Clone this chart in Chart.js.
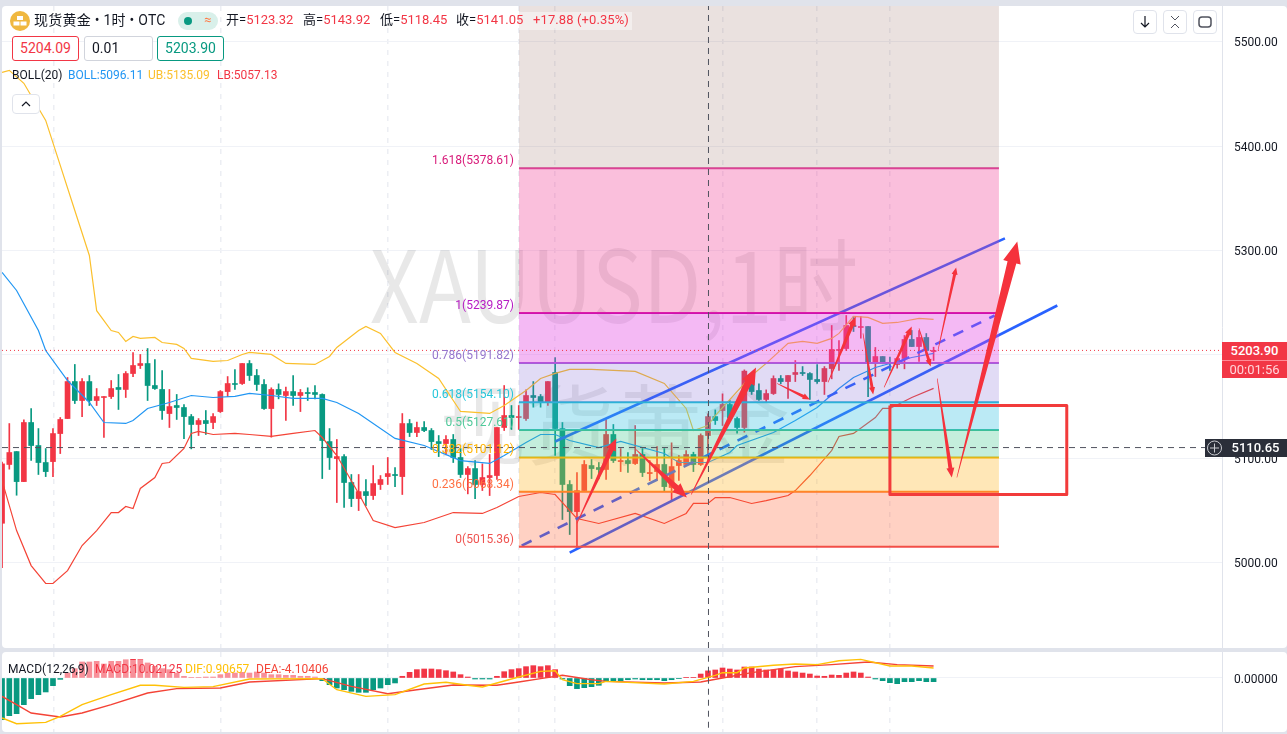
<!DOCTYPE html>
<html>
<head>
<meta charset="utf-8">
<script src="https://cdn.jsdelivr.net/npm/chart.js@4/dist/chart.umd.min.js"></script>
<style>
  html, body { margin: 0; padding: 0; width: 1287px; height: 734px; overflow: hidden; background: #e0e3eb; }
  body { font-family: Roboto, "Noto Sans CJK SC", sans-serif; color: #131722; position: relative; }
  .pane { position: absolute; left: 2px; width: 1285px; background: #fff; border-radius: 4px; }
  canvas { position: absolute; left: 0; }
  .t { position: absolute; white-space: nowrap; line-height: 16px; }
  .r { color: #f23645; }
  .box { position: absolute; top: 36px; height: 23px; line-height: 23px; text-align: center; border: 1px solid #d1d4dc; border-radius: 3px; font-size: 14px; background: #fff; }
  .btn { position: absolute; border: 1px solid #e0e3eb; border-radius: 4px; background: #fff; box-sizing: border-box; }
  .tag { position: absolute; text-align: center; color: #fff; font-size: 13px; }
</style>
</head>
<body>
<div class="pane" style="top:6px;height:642px"></div>
<div class="pane" style="top:652px;height:80px"></div>
<canvas id="mainChart" width="1287" height="648" style="top:0"></canvas>
<canvas id="macdChart" width="1287" height="80" style="top:652px"></canvas>

<!-- 标题栏 -->
<svg style="position:absolute;left:10px;top:11px" width="20" height="20"><circle cx="10" cy="10" r="10" fill="#f0b840"/><rect x="7" y="5" width="6" height="4" fill="#fff"/><rect x="3.5" y="10.5" width="6" height="4" fill="#fff"/><rect x="10.5" y="10.5" width="6" height="4" fill="#fff"/></svg>
<div class="t" style="left:34px;top:12px;font-size:14px;letter-spacing:.25px">现货黄金 • 1时 • OTC</div>
<div style="position:absolute;left:178px;top:12px;width:40px;height:18px;background:#d9f0ea;border-radius:9px"></div>
<div style="position:absolute;left:184px;top:17px;width:8px;height:8px;background:#089981;border-radius:50%"></div>
<div class="t" style="left:204px;top:12px;font-size:13px;color:#ff7a45">≈</div>
<div style="position:absolute;left:519px;top:12px;width:113px;height:18px;background:rgba(255,255,255,.45)"></div>
<div class="t" style="left:226px;top:12px;font-size:13px">开=<span class="r">5123.32</span></div>
<div class="t" style="left:303px;top:12px;font-size:13px">高=<span class="r">5143.92</span></div>
<div class="t" style="left:380px;top:12px;font-size:13px">低=<span class="r">5118.45</span></div>
<div class="t" style="left:456px;top:12px;font-size:13px">收=<span class="r">5141.05</span></div>
<div class="t r" style="left:533px;top:12px;font-size:13px;letter-spacing:.1px">+17.88 (+0.35%)</div>

<div class="box r" style="left:12px;width:65px;border-color:#f23645">5204.09</div>
<div class="box" style="left:84px;width:67px;text-align:left;text-indent:7px">0.01</div>
<div class="box" style="left:157px;width:65px;border-color:#089981;color:#089981">5203.90</div>

<div class="t" style="left:12px;top:67px;font-size:12px">BOLL(20)</div>
<div class="t" style="left:68px;top:67px;font-size:12px;color:#2196f3">BOLL:5096.11</div>
<div class="t" style="left:148px;top:67px;font-size:12px;color:#fbc02d">UB:5135.09</div>
<div class="t" style="left:217px;top:67px;font-size:12px;color:#f23645">LB:5057.13</div>

<div class="btn" style="left:12px;top:94px;width:28px;height:20px"><svg width="26" height="18"><path d="M9 11l4-4 4 4" fill="none" stroke="#131722" stroke-width="1.2"/></svg></div>
<div class="btn" style="left:1133px;top:10px;width:24px;height:24px"><svg width="22" height="22"><path d="M11 5v11M7 12l4 4 4-4" fill="none" stroke="#131722" stroke-width="1.2"/></svg></div>
<div class="btn" style="left:1163px;top:10px;width:24px;height:24px"><svg width="22" height="22"><path d="M7 5l4 4 4-4M7 17l4-4 4 4" fill="none" stroke="#50535e" stroke-width="1"/></svg></div>
<div class="btn" style="left:1193px;top:10px;width:24px;height:24px"><svg width="22" height="22"><rect x="5" y="6" width="12" height="10" rx="3" fill="none" stroke="#50535e" stroke-width="1.5"/></svg></div>

<!-- 价格标签 -->
<div class="tag" style="left:1222px;top:342px;width:65px;height:18px;line-height:17px;background:#f23645;font-weight:500">5203.90</div>
<div class="tag" style="left:1222px;top:360px;width:65px;height:18px;line-height:17px;background:#f23645;color:#ffd5da;border-top:1px solid #ff8a96;box-sizing:border-box">00:01:56</div>
<div class="tag" style="left:1224px;top:439px;width:63px;height:18px;line-height:18px;background:#2a2e39;font-weight:500">5110.65</div>
<div style="position:absolute;left:1205px;top:439px;width:19px;height:18px;background:#2a2e39"></div>
<svg style="position:absolute;left:1206px;top:440px" width="17" height="16"><circle cx="8.5" cy="8" r="7" fill="none" stroke="#c8cad0"/><path d="M8.5 3.5v9M4 8h9" stroke="#c8cad0"/></svg>

<!-- MACD 标题 -->
<div style="position:absolute;left:2px;top:660px;width:326px;height:18px;background:rgba(255,255,255,.45)"></div>
<div class="t" style="left:8px;top:661px;font-size:12px">MACD(12,26,9)</div>
<div class="t" style="left:95px;top:661px;font-size:12px;color:#f23645">MACD:10.02125</div>
<div class="t" style="left:185px;top:661px;font-size:12px;color:#ffc107">DIF:0.90657</div>
<div class="t" style="left:256px;top:661px;font-size:12px;color:#f44336">DEA:-4.10406</div>

<script>
// K线 (来自截图估读)
const opens = [5038,5094.4,5106.8,5078,5134.7,5112.6,5096.3,5097.2,5124.1,5138.5,5174,5155.8,5174,5155.8,5158.7,5159.6,5168.3,5166.4,5181.7,5189.4,5191.3,5170.2,5166.4,5143.3,5151,5149.1,5140.4,5132.8,5136.6,5134.7,5145.2,5164.4,5172.1,5172.1,5191.3,5179.8,5171.2,5148.1,5166.4,5160.6,5164.4,5160.6,5163.5,5163.5,5161.6,5116.4,5100.1,5102,5077.1,5061.7,5068.4,5064.6,5075.2,5082.8,5084.8,5082.8,5133.7,5125.1,5129.9,5127,5116.4,5114.5,5118.4,5101.1,5084.8,5090.5,5075.2,5081.9,5083.8,5129.9,5141.4,5139.5,5138.5,5160.6,5159.6,5153.9,5182.7,5128.9,5075.2,5049.2,5069.4,5093.4,5091.5,5089.6,5123.2,5097.2,5098.2,5095.3,5104,5085.7,5087.6,5094.4,5072.3,5093.4,5094.4,5104,5094.4,5122.2,5140.4,5146.2,5152,5138.5,5129.9,5175,5165.4,5156.8,5162.5,5176.9,5174,5180.8,5182.7,5181.7,5176,5174,5186.5,5203.8,5205.7,5227.8,5225.9,5226.8,5192.3,5198,5192.3,5190.4,5196.1,5214.4,5207.6,5216.3,5202.8];
const highs = [5096.6,5133.7,5106.8,5137.2,5148.1,5128.9,5109.7,5128.9,5139.5,5177.9,5190.4,5176.9,5179.8,5167.3,5159.6,5175,5180.8,5183.6,5201.9,5200,5205.7,5195.2,5184.6,5166.4,5161.6,5152,5142.4,5138.5,5146.2,5143.3,5165.4,5178.8,5185.6,5191.3,5194.2,5185.6,5176,5168,5171.8,5168.6,5179.8,5166.4,5168,5170.2,5162.2,5128.9,5118.4,5104,5084.8,5084.8,5080,5093.4,5083.8,5101.1,5091.5,5143.3,5137.6,5135,5135.6,5128.9,5122.2,5122.2,5123.2,5109.7,5092.4,5098.2,5095,5104,5129.9,5170.2,5151,5151,5166,5174,5161.6,5174,5197,5134.7,5079,5086.7,5098.2,5099.2,5096.3,5137.6,5132.8,5109.7,5105.9,5131.8,5109.7,5098.2,5111.6,5109.7,5115.2,5103,5107.8,5106.2,5123.8,5143,5146.8,5162.2,5155.8,5139.8,5185.2,5182,5171.8,5166,5179.5,5179.8,5179.8,5194.2,5188.4,5182.7,5190.4,5188.4,5227.8,5213.4,5237.4,5236.4,5236.4,5226.8,5206.7,5198,5197.4,5197.4,5218.2,5223,5223,5220.1,5207];
const lows = [4995.5,5089.9,5064.9,5078,5098.2,5084.8,5082.8,5082.8,5104.9,5138.5,5152.9,5140.4,5151,5151,5120.3,5157.7,5147.2,5158.7,5178.8,5186.5,5155.8,5166.4,5137.6,5129.9,5137.6,5119.3,5109.4,5122.2,5123.2,5128.9,5144.3,5159.6,5166.4,5171.2,5175,5165.4,5147.2,5120.6,5157.4,5136.6,5151,5145.2,5155.8,5157.4,5080.9,5089.6,5057.9,5053.1,5054,5050.2,5055,5060.8,5070.4,5075.2,5073.2,5065.6,5121.2,5121.2,5126,5108.8,5102,5104,5096.3,5081.9,5066.2,5061.7,5069.4,5064.6,5080,5127,5128,5128,5136.6,5149.4,5149.4,5151,5103,5041.6,5027.2,5014.7,5069.4,5080.9,5080.6,5080,5096.3,5087.6,5086.7,5094.4,5082.8,5079,5079,5068.4,5059.8,5079,5094.4,5087.6,5093.4,5096.6,5132.8,5131.8,5136.6,5124.4,5125.4,5161.6,5155.8,5154.2,5161.6,5171.8,5157.7,5174,5179.8,5156.8,5172.1,5161.6,5176.6,5184.6,5203.8,5222,5215.6,5159.6,5178.8,5191,5184.6,5186.8,5186.2,5207.6,5193.2,5200,5194.2];
const closes = [5095,5105.9,5078,5134.7,5112.6,5096.3,5087.6,5124.1,5137.6,5174,5155.8,5174,5155.8,5159.6,5159.6,5167.3,5166.4,5181.7,5189.4,5191.3,5170.2,5167.3,5146.2,5150,5149.1,5140.4,5132.8,5136.6,5133.7,5140.4,5164.4,5172.1,5171.2,5191.3,5179.8,5171.2,5148.1,5166.4,5161.6,5164.4,5160.6,5163.5,5162.5,5161.6,5117.4,5101.1,5102,5077.1,5061.7,5068.4,5064.6,5076.1,5080,5085.7,5083.8,5133.7,5125.1,5129.9,5127,5116.4,5114.5,5118.4,5101.1,5084.8,5090.5,5075.2,5081.9,5083.8,5129.9,5141.4,5139.5,5140.4,5160.6,5158.7,5153.9,5174,5128.9,5075.2,5049.2,5069.4,5094.4,5090.5,5089.6,5123.2,5098.2,5098.2,5095.3,5104,5086.7,5086.7,5094.4,5073.2,5092.4,5098.2,5104,5094.4,5122.2,5140.4,5136.6,5152,5139.2,5129.9,5184,5164.4,5156.8,5162.5,5176.9,5174,5179.8,5182.7,5181.7,5176,5174,5186.5,5204.8,5204.8,5227.8,5226.8,5226.8,5192.3,5198,5192.3,5191.3,5196.1,5214.4,5207.6,5216.3,5203.8,5203.8];

// BOLL(20) 读点
const ubIdx = [0,1,3,6,8,10,12,13,15,16,17,18,19,21,22,24,25,26,29,31,33,34,37,39,43,45,46,49,50,52,54,57,60,63,67,69,72,74,76,78,81,87,91,94,95,97,98,103,105,108,110,112,114,115,117,119,121,123,126,128];
const ubVal = [5470.7,5472.6,5460.2,5424.6,5381.4,5338.2,5295,5242,5223,5221.1,5212.5,5217.3,5215.4,5216.3,5211.5,5209.6,5205.8,5196.2,5193.3,5194.2,5200,5201.9,5200,5191.4,5190.4,5198.1,5206.7,5223,5226.9,5220.2,5201.9,5191.4,5177,5145.3,5143.4,5151,5165.4,5177,5181.8,5185.6,5185.6,5183.7,5172.2,5148.2,5127,5131.8,5141.4,5179.8,5191.4,5210.6,5212.5,5210.6,5215.4,5220.2,5236.5,5235.5,5229.8,5230.7,5234.6,5233.6];
const midIdx = [0,2,5,6,9,12,14,17,18,20,23,26,29,32,34,37,40,44,46,49,54,58,63,67,69,72,74,76,78,82,85,88,91,93,97,100,101,106,109,112,115,117,120,121,125,128];
const midVal = [5278.7,5261.4,5223,5203.8,5175,5153.9,5134.7,5133.8,5136.6,5148.2,5153.9,5160.6,5158.7,5159.7,5162.6,5160.6,5157.8,5157.8,5153.9,5143.4,5119.4,5112.6,5098.2,5095.4,5103,5115.5,5123.2,5123.2,5117.4,5110.7,5116.5,5110.7,5105,5096.3,5096.3,5105.9,5112.6,5125.1,5136.6,5149.1,5167.4,5177.9,5187.5,5189.4,5197.1,5201];
const lbIdx = [0,2,4,6,7,9,11,13,15,16,17,18,19,21,22,23,25,26,27,29,32,34,37,40,43,44,46,49,51,54,58,62,66,68,71,74,76,78,79,82,87,91,94,95,97,98,100,103,105,108,109,111,114,115,117,120,121,122,125,128];
const lbVal = [5079,5031,4997.4,4980.2,4980.2,4992.6,5016.6,5031,5048.3,5048.3,5054.1,5052.2,5071.4,5081.9,5095.4,5096.3,5109.8,5124.2,5126.1,5123.2,5124.2,5123.2,5121.3,5124.2,5127,5120.3,5103,5066.6,5040.6,5033.9,5038.7,5048.3,5047.4,5053.1,5063.7,5067.5,5065.6,5050.2,5042.6,5037.8,5047.4,5037.8,5047.4,5057,5057,5062.7,5062.7,5057,5059.8,5064.6,5069.4,5083.8,5107.8,5121.3,5124.2,5139.5,5148.2,5148.2,5158.7,5167.4];

// 斐波那契
const fibRatios = ["1.618","1","0.786","0.618","0.5","0.382","0.236","0"];
const fibPrices = [5378.61,5239.87,5191.82,5154.10,5127.61,5101.12,5068.34,5015.36];
const fibLineColors = ["#e0409a","#d010b0","#a55fd8","#29b6d8","#3cbf98","#ffb300","#ff7a2a","#f04e4e"];
const fibZoneColors = ["rgba(240,60,150,.33)","rgba(225,60,225,.36)","rgba(120,90,210,.22)","rgba(50,190,225,.33)","rgba(60,200,140,.3)","rgba(255,180,30,.32)","rgba(255,90,40,.28)"];
const fibTopZoneColor = "rgba(140,90,80,.18)";
const fibLabelColors = ["#d81b7a","#b71cc4","#9575cd","#26c6da","#4fc99a","#ffb300","#ff7043","#ef5350"];
const fibStart = 71.03, fibEnd = 136.98;

// 通道线
const channelUpperX = [76,137.8], channelUpperY = [5116.5,5311.4];
const channelLowerX = [78,145], channelLowerY = [5009.9,5247];
const channelMidX = [71.4,136.4], channelMidY = [5016.6,5237.4];

// 手绘箭头 (起点, 终点, 箭头大小)
const arrowFromX = [79,87.1,94.7,106.5,113.5,118.3,121.2,126,128.6,128.5,131.2];
const arrowFromY = [5037.8,5108.8,5065.6,5172.2,5173.1,5220.2,5168.3,5225,5203.8,5177,5081.9];
const arrowToX = [84.4,94.1,103.6,111,117.3,119.7,125,127.6,131.1,130.5,139.5];
const arrowToY = [5119.4,5062.7,5187.5,5156.8,5236.5,5161.6,5226.9,5188.5,5283.5,5081.9,5308.5];
const arrowSizes = [5,6,7,3,4,3,3.5,3,3,4,9];

// 红框
const boxX = [122,146.3,146.3,122,122];
const boxY = [5151,5151,5065.6,5065.6,5151];

const yTicks = [5000,5100,5200,5300,5400,5500];
const gridIdx = [7.1,30,53,71,76,99,112,122];
const lastPrice = 5203.9, crossPrice = 5110.65, crossIdx = 97.07;
const priceMin = 4918.3, priceMax = 5534.4;
const idxMin = -0.005, idxMax = 167.63;

// MACD
const macdHist = [-58.8,-53.1,-50.3,-37.6,-29.1,-23.5,-19.7,-10.8,-1.9,7,13.2,22.6,22.6,23.5,19.7,23.5,23.5,25.4,26.3,25.9,21.2,16.5,13.2,11.8,7,2.4,0.9,0.9,1.4,1.4,4.7,7,7,8,7,8.5,7,4.7,4.7,3.8,3.8,2.4,2.4,1.4,-3.8,-9.4,-14.1,-16.5,-18.8,-20.2,-20.2,-16.5,-14.1,-9.4,-7,2.4,8,11.8,12.7,12.7,11.8,10.3,8.5,4.7,1.4,-1.4,-1.4,-1.4,2.4,8.9,11.8,13.2,16,17.4,16,17.4,11.8,-1.4,-10.8,-15,-13.6,-12.2,-10.3,-4.2,-4.2,-4.2,-2.4,-1.4,-2.4,-2.4,-2.4,-3.8,-2.4,-0.9,0.9,0.9,5.6,10.02,11.3,14.1,12.7,11.3,15.5,15.5,12.7,11.3,11.3,12.7,9.9,8.5,7,5.6,2.8,2.4,4.2,3.8,7,8.5,7,1.4,-1.4,-3.8,-6.6,-8,-5.2,-5.2,-3.8,-5.2,-5.2];
const difIdx = [0,2,6,8,11,15,19,21,25,29,34,44,46,50,54,58,61,64,66,68,71,74,76,77,79,82,83,91,95,98,99,101,102,106,109,112,115,118,122,125,128];
const difVal = [-56.4,-64.4,-62.5,-54,-37.6,-23.5,-10.3,-10.3,-13.2,-12.2,-1.4,-0.9,-16.5,-25.9,-23.5,-8.5,-6.1,-10.3,-12.7,-7,1.4,9.4,10.3,-2.4,-8,-8,-4.7,-8.5,-4.7,3.8,7.5,7.5,14.1,17.9,19.7,18.8,24.4,26.3,16.9,16.9,14.1];
const deaIdx = [0,2,4,8,11,15,20,24,30,34,44,48,53,57,62,68,71,74,77,81,83,91,96,99,103,109,114,119,123,128];
const deaVal = [-25.9,-37.6,-49.4,-54.9,-49.4,-37.6,-21.2,-15,-14.1,-5.6,-0.9,-11.8,-22.1,-16.5,-9.9,-10.3,-5.6,-0.9,3.8,-2.4,-4.7,-7,-5.6,0,7.5,16,18.8,22.6,18.8,16.9];
const macdMin = -76.14, macdMax = 36.66;

const UP = "#f23645", DOWN = "#089981";

const pts = (xs, ys) => xs.map((x, i) => ({ x, y: ys[i] }));
const lineDs = (xs, ys, color, width, order, extra) => Object.assign({
  type: "line", data: pts(xs, ys), borderColor: color, borderWidth: width,
  pointRadius: 0, tension: 0, fill: false, order
}, extra || {});

const candleColors = closes.map((c, i) => (c >= opens[i] ? UP : DOWN));

// 水印
const watermark = {
  id: "watermark",
  beforeDatasetsDraw(chart) {
    const ctx = chart.ctx;
    ctx.save();
    ctx.fillStyle = "rgba(0,0,0,.09)";
    ctx.textAlign = "center";
    ctx.textBaseline = "middle";
    ctx.font = '88px "Noto Sans CJK SC"';
    ctx.fillText("现货黄金", 614, 425);
    ctx.translate(614, 285);
    ctx.scale(0.855, 1);
    ctx.font = '100px "Noto Sans CJK SC"';
    ctx.fillText("XAUUSD,1时", 0, 0);
    ctx.restore();
  }
};

// 斐波那契文字和箭头
const overlays = {
  id: "overlays",
  afterDatasetsDraw(chart) {
    const { ctx, scales: { x, y } } = chart;
    ctx.save();
    ctx.font = "12px Roboto";
    ctx.textAlign = "right";
    ctx.textBaseline = "bottom";
    fibPrices.forEach((p, i) => {
      ctx.fillStyle = fibLabelColors[i];
      ctx.fillText(`${fibRatios[i]}(${p.toFixed(2)})`, x.getPixelForValue(fibStart) - 5, y.getPixelForValue(p) - 1);
    });
    ctx.fillStyle = "#f5323c";
    arrowSizes.forEach((size, i) => {
      const x0 = x.getPixelForValue(arrowFromX[i]), y0 = y.getPixelForValue(arrowFromY[i]);
      const x1 = x.getPixelForValue(arrowToX[i]), y1 = y.getPixelForValue(arrowToY[i]);
      const a = Math.atan2(y1 - y0, x1 - x0);
      ctx.save();
      ctx.translate(x1, y1);
      ctx.rotate(a);
      const len = Math.hypot(x1 - x0, y1 - y0);
      ctx.beginPath();
      ctx.moveTo(0, 0);
      ctx.lineTo(-size * 2.4, size);
      ctx.lineTo(-size * 2.4, size * 0.5);
      ctx.lineTo(-len, 0.3);
      ctx.lineTo(-len, -0.3);
      ctx.lineTo(-size * 2.4, -size * 0.5);
      ctx.lineTo(-size * 2.4, -size);
      ctx.closePath();
      ctx.fill();
      ctx.restore();
    });
    ctx.restore();
  }
};

// 右轴: 去掉标签带来的上下留白
const fitRightAxis = (s) => {
  s.width = 65;
  s.paddingTop = 0;
  s.paddingBottom = 0;
};

const xScale = {
  type: "linear", min: idxMin, max: idxMax, offset: false,
  afterBuildTicks: (s) => { s.ticks = gridIdx.map((value) => ({ value })); },
  afterFit: (s) => { s.height = 0; s.paddingLeft = 0; s.paddingRight = 0; },
  ticks: { display: false },
  grid: { color: "#eceef3", lineWidth: 1.5, offset: false, drawTicks: false },
  border: { display: false, dash: [5, 6] }
};

// 主图
const datasets = [
  { label: "wick", data: opens.map((_, i) => ({ x: i, y: [lows[i], highs[i]] })), backgroundColor: candleColors, barThickness: 1, grouped: false, order: 7 },
  { label: "body", data: opens.map((o, i) => ({ x: i, y: [o, closes[i]] })), backgroundColor: candleColors, barThickness: 5, grouped: false, order: 6 },
  lineDs(ubIdx, ubVal, "#fbc02d", 1.2, 5),
  lineDs(midIdx, midVal, "#2196f3", 1.2, 5),
  lineDs(lbIdx, lbVal, "#f44336", 1.2, 5),
  lineDs(channelUpperX, channelUpperY, "#2962ff", 2.6, 4),
  lineDs(channelLowerX, channelLowerY, "#2962ff", 2.6, 4),
  lineDs(channelMidX, channelMidY, "#2962ff", 2.6, 4, { borderDash: [11, 9] }),
  lineDs([fibStart, fibEnd], [fibPrices[0], fibPrices[0]], fibLineColors[0], 0, 3, { fill: { value: priceMax }, backgroundColor: fibTopZoneColor }),
  ...fibPrices.map((p, i) => lineDs([fibStart, fibEnd], [p, p], fibLineColors[i], 2, 3, i < fibZoneColors.length ? { fill: { value: fibPrices[i + 1] }, backgroundColor: fibZoneColors[i] } : {})),
  lineDs([idxMin, idxMax], [lastPrice, lastPrice], "#f23645", 1, 2, { borderDash: [1, 3] }),
  lineDs([idxMin, idxMax], [crossPrice, crossPrice], "#50535e", 1, 2, { borderDash: [6, 5] }),
  lineDs([crossIdx, crossIdx], [priceMin, priceMax], "#50535e", 1, 2, { borderDash: [6, 5] }),
  lineDs(boxX, boxY, "#f23b3b", 3, 1, { borderJoinStyle: "round" })
];

new Chart(document.getElementById("mainChart").getContext("2d"), {
  type: "bar",
  data: { datasets },
  plugins: [watermark, overlays],
  options: {
    responsive: false,
    animation: false,
    parsing: { xAxisKey: "x", yAxisKey: "y" },
    layout: { padding: { left: 2, top: 6, right: 0, bottom: 0 } },
    plugins: { legend: { display: false }, tooltip: { enabled: false } },
    scales: {
      x: xScale,
      y: {
        position: "right", min: priceMin, max: priceMax,
        afterBuildTicks: (s) => { s.ticks = yTicks.map((value) => ({ value })); },
        afterFit: fitRightAxis,
        ticks: { padding: 12, labelOffset: 1.5, color: "#131722", font: { family: "Roboto", size: 12 }, callback: (v) => v.toFixed(2) },
        grid: { color: "#f0f2f7", drawTicks: false },
        border: { color: "#e0e3eb" }
      }
    }
  }
});

// MACD 副图
new Chart(document.getElementById("macdChart").getContext("2d"), {
  type: "bar",
  data: {
    datasets: [
      {
        data: macdHist.map((y, x) => ({ x, y })),
        backgroundColor: macdHist.map((v) => (v >= 0 ? UP : DOWN)),
        barThickness: 5, grouped: false, order: 4
      },
      lineDs(deaIdx, deaVal, "#f44336", 1.4, 3),
      lineDs(difIdx, difVal, "#ffc107", 1.4, 2),
      lineDs([crossIdx, crossIdx], [macdMin + 6, macdMax], "#50535e", 1, 1, { borderDash: [6, 5] })
    ]
  },
  options: {
    responsive: false,
    animation: false,
    layout: { padding: { left: 2, top: 0, right: 0, bottom: 0 } },
    plugins: { legend: { display: false }, tooltip: { enabled: false } },
    scales: {
      x: xScale,
      y: {
        position: "right", min: macdMin, max: macdMax,
        afterBuildTicks: (s) => { s.ticks = [{ value: 0 }]; },
        afterFit: fitRightAxis,
        ticks: { padding: 12, labelOffset: 1.5, color: "#131722", font: { family: "Roboto", size: 12 }, callback: (v) => v.toFixed(5) },
        grid: { color: "#f0f2f7", drawTicks: false },
        border: { color: "#e0e3eb" }
      }
    }
  }
});
</script>
</body>
</html>
